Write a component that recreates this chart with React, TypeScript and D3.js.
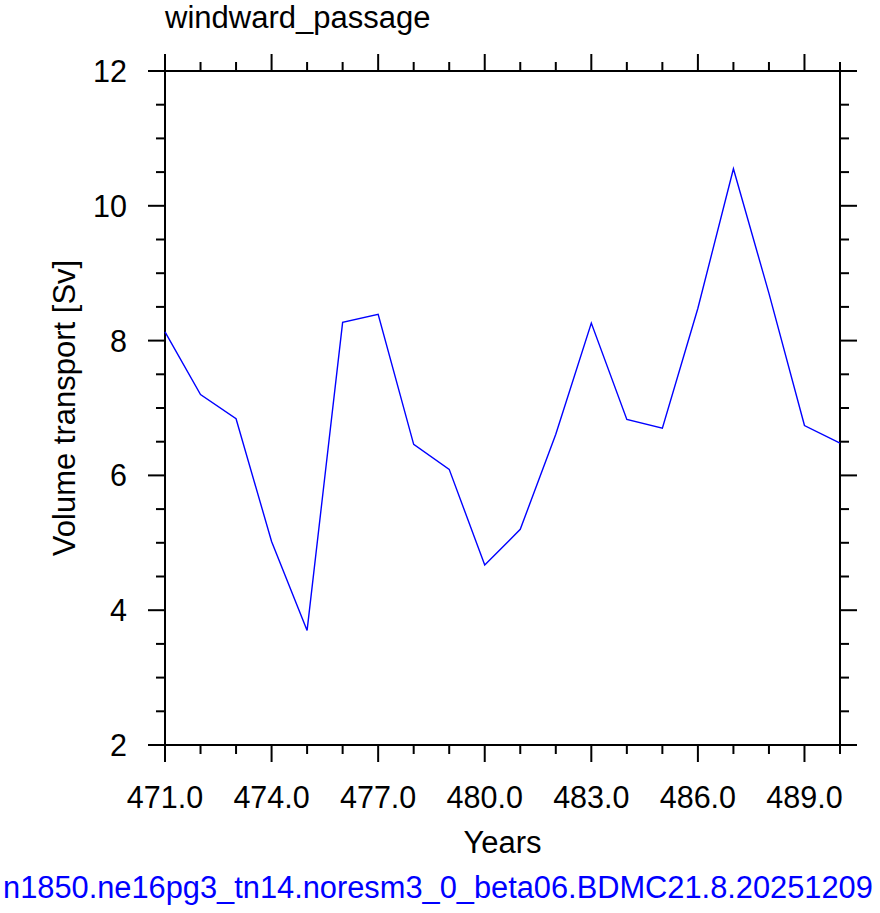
import React, { useEffect, useRef } from 'react';
import * as d3 from 'd3';

// yearly volume transport through the Windward Passage
const years = [471, 472, 473, 474, 475, 476, 477, 478, 479, 480, 481, 482, 483, 484, 485, 486, 487, 488, 489, 490];
const transport = [8.13, 7.2, 6.84, 5.02, 3.7, 8.27, 8.39, 6.46, 6.09, 4.67, 5.2, 6.61, 8.26, 6.83, 6.7, 8.48, 10.55, 8.7, 6.74, 6.48];
const xMajorTicks = [471, 474, 477, 480, 483, 486, 489];
const yMajorTicks = [2, 4, 6, 8, 10, 12];

const title = 'windward_passage';
const caseName = 'n1850.ne16pg3_tn14.noresm3_0_beta06.BDMC21.8.20251209';

const App = () => {
    const svgRef = useRef<SVGSVGElement>(null);

    useEffect(() => {
        const width = 880;
        const height = 913;
        const left = 165, right = 840, top = 71, bottom = 745;
        const font = 'Helvetica, "Liberation Sans", Arial, sans-serif';

        const svg = d3.select(svgRef.current);
        svg.selectAll('*').remove();
        svg.attr('width', width).attr('height', height).attr('viewBox', `0 0 ${width} ${height}`);

        const x = d3.scaleLinear().domain([471, 490]).range([left, right]);
        const y = d3.scaleLinear().domain([2, 12]).range([bottom, top]);

        const xMinor = d3.range(471, 491, 1).filter(v => !xMajorTicks.includes(v));
        const yMinor = d3.range(2, 12.01, 0.5).filter(v => !yMajorTicks.includes(v));

        const majorLen = 17;
        const minorLen = 9;
        const ticks = svg.append('g').attr('stroke', 'black').attr('stroke-width', 2);

        // x ticks on bottom and top, pointing outward
        xMajorTicks.forEach(v => {
            ticks.append('line').attr('x1', x(v)).attr('x2', x(v)).attr('y1', bottom).attr('y2', bottom + majorLen);
            ticks.append('line').attr('x1', x(v)).attr('x2', x(v)).attr('y1', top).attr('y2', top - majorLen);
        });
        xMinor.forEach(v => {
            ticks.append('line').attr('x1', x(v)).attr('x2', x(v)).attr('y1', bottom).attr('y2', bottom + minorLen);
            ticks.append('line').attr('x1', x(v)).attr('x2', x(v)).attr('y1', top).attr('y2', top - minorLen);
        });
        // y ticks on left and right
        yMajorTicks.forEach(v => {
            ticks.append('line').attr('x1', left).attr('x2', left - majorLen).attr('y1', y(v)).attr('y2', y(v));
            ticks.append('line').attr('x1', right).attr('x2', right + majorLen).attr('y1', y(v)).attr('y2', y(v));
        });
        yMinor.forEach(v => {
            ticks.append('line').attr('x1', left).attr('x2', left - minorLen).attr('y1', y(v)).attr('y2', y(v));
            ticks.append('line').attr('x1', right).attr('x2', right + minorLen).attr('y1', y(v)).attr('y2', y(v));
        });

        svg.append('rect')
            .attr('x', left).attr('y', top)
            .attr('width', right - left).attr('height', bottom - top)
            .attr('fill', 'none').attr('stroke', 'black').attr('stroke-width', 2);

        const line = d3.line<number>()
            .x((_, i) => x(years[i]))
            .y(d => y(d));

        svg.append('path')
            .datum(transport)
            .attr('d', line)
            .attr('fill', 'none')
            .attr('stroke', '#0000ff')
            .attr('stroke-width', 1.4);

        const labels = svg.append('g').attr('font-family', font).attr('fill', 'black');

        xMajorTicks.forEach(v => {
            labels.append('text')
                .attr('x', x(v)).attr('y', 808)
                .attr('text-anchor', 'middle')
                .attr('font-size', 30.5)
                .text(v.toFixed(1));
        });
        yMajorTicks.forEach(v => {
            labels.append('text')
                .attr('x', 127).attr('y', y(v))
                .attr('dy', '0.36em')
                .attr('text-anchor', 'end')
                .attr('font-size', 30.5)
                .text(v);
        });

        labels.append('text')
            .attr('x', left).attr('y', 28)
            .attr('font-size', 31)
            .text(title);

        labels.append('text')
            .attr('x', (left + right) / 2).attr('y', 853)
            .attr('text-anchor', 'middle')
            .attr('font-size', 31)
            .text('Years');

        labels.append('text')
            .attr('transform', `translate(75,${(top + bottom) / 2}) rotate(-90)`)
            .attr('text-anchor', 'middle')
            .attr('font-size', 31)
            .text('Volume transport [Sv]');

        labels.append('text')
            .attr('x', 3).attr('y', 898)
            .attr('font-size', 30.8)
            .attr('fill', '#0000ff')
            .text(caseName);
    }, []);

    return <svg ref={svgRef} style={{ position: 'absolute', left: 0, top: 0, background: 'white' }} />;
};

export default App;
